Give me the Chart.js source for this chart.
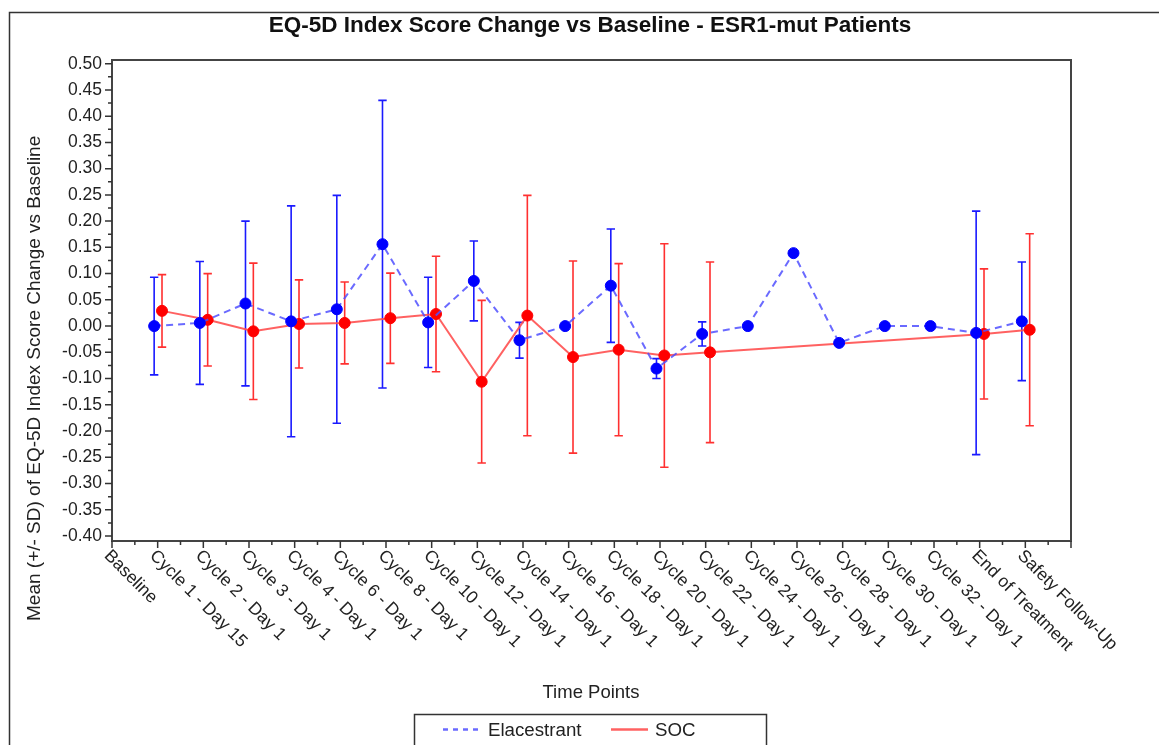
<!DOCTYPE html>
<html>
<head>
<meta charset="utf-8">
<script src="https://cdn.jsdelivr.net/npm/chart.js@4/dist/chart.umd.min.js"></script>
<style>
  html, body { margin: 0; padding: 0; background: #fff; }
  canvas { display: block; }
</style>
</head>
<body>
<canvas id="grafico" width="1159" height="745"></canvas>
<script>
// time points (Baseline has no change value)
const timePoints = [
    'Baseline', 'Cycle 1 - Day 15', 'Cycle 2 - Day 1', 'Cycle 3 - Day 1', 'Cycle 4 - Day 1',
    'Cycle 6 - Day 1', 'Cycle 8 - Day 1', 'Cycle 10 - Day 1', 'Cycle 12 - Day 1', 'Cycle 14 - Day 1',
    'Cycle 16 - Day 1', 'Cycle 18 - Day 1', 'Cycle 20 - Day 1', 'Cycle 22 - Day 1', 'Cycle 24 - Day 1',
    'Cycle 26 - Day 1', 'Cycle 28 - Day 1', 'Cycle 30 - Day 1', 'Cycle 32 - Day 1',
    'End of Treatment', 'Safety Follow-Up'
];

// Elacestrant: mean change and SD
const elaMean = [null, 0.000, 0.006, 0.043, 0.009, 0.032, 0.156, 0.007, 0.086, -0.027, 0.000,
    0.077, -0.081, -0.015, 0.000, 0.139, -0.032, 0.000, 0.000, -0.013, 0.009];
const elaSd = [null, 0.093, 0.117, 0.157, 0.220, 0.217, 0.274, 0.086, 0.076, 0.034, null,
    0.108, 0.019, 0.023, null, null, null, null, null, 0.232, 0.113];

// SOC: mean change and SD
const socMean = [null, 0.029, 0.012, -0.010, 0.004, 0.006, 0.015, 0.023, -0.106, 0.020, -0.059,
    -0.045, -0.056, -0.050, null, null, null, null, null, -0.015, -0.007];
const socSd = [null, 0.069, 0.088, 0.130, 0.084, 0.078, 0.086, 0.110, 0.155, 0.229, 0.183,
    0.164, 0.213, 0.172, null, null, null, null, null, 0.124, 0.183];

const yTicks = [-0.40, -0.35, -0.30, -0.25, -0.20, -0.15, -0.10, -0.05, 0.00,
    0.05, 0.10, 0.15, 0.20, 0.25, 0.30, 0.35, 0.40, 0.45, 0.50];

const FONT = "'Liberation Sans', Arial, sans-serif";
const TXT = '#222';
const ELA_SHIFT = -0.077; // small horizontal dodge so the groups don't overlap
const SOC_SHIFT = 0.095;

function pontos(media, shift) {
    const out = [];
    media.forEach((v, i) => { if (v !== null) out.push({ x: i + shift, y: v }); });
    return out;
}

const series = [
    { media: elaMean, sd: elaSd, shift: ELA_SHIFT, cor: '#1a1aff' },
    { media: socMean, sd: socSd, shift: SOC_SHIFT, cor: '#ff3030' },
];

const errorBars = {
    id: 'errorBars',
    beforeDatasetsDraw(chart) {
        const { ctx, scales: { x, y } } = chart;
        ctx.save();
        ctx.lineWidth = 1.6;
        series.forEach(s => {
            ctx.strokeStyle = s.cor;
            s.media.forEach((m, i) => {
                if (m === null || s.sd[i] === null) return;
                const px = x.getPixelForValue(i + s.shift);
                const top = y.getPixelForValue(m + s.sd[i]);
                const bot = y.getPixelForValue(m - s.sd[i]);
                ctx.beginPath();
                ctx.moveTo(px, top); ctx.lineTo(px, bot);
                ctx.moveTo(px - 4.2, top); ctx.lineTo(px + 4.2, top);
                ctx.moveTo(px - 4.2, bot); ctx.lineTo(px + 4.2, bot);
                ctx.stroke();
            });
        });
        ctx.restore();
    }
};

const moldura = {
    id: 'moldura',
    afterDraw(chart) {
        const { ctx, chartArea: a, scales: { x, y } } = chart;
        ctx.save();

        // outer border (only top/left visible in the picture)
        ctx.strokeStyle = '#333';
        ctx.lineWidth = 1.5;
        ctx.strokeRect(9.5, 12.5, 1200, 800);

        // plot frame
        ctx.strokeStyle = '#444';
        ctx.lineWidth = 2;
        ctx.strokeRect(a.left, a.top, a.right - a.left, a.bottom - a.top);

        // tick marks
        ctx.strokeStyle = '#333';
        ctx.lineWidth = 1.5;
        ctx.beginPath();
        yTicks.forEach((v, k) => {
            const py = y.getPixelForValue(v);
            ctx.moveTo(a.left, py); ctx.lineTo(a.left - 7, py);
            if (k < yTicks.length - 1) {
                const pm = y.getPixelForValue(v + 0.025);
                ctx.moveTo(a.left, pm); ctx.lineTo(a.left - 4, pm);
            }
        });
        for (let i = 0; i <= timePoints.length; i++) {
            const px = x.getPixelForValue(i);
            ctx.moveTo(px, a.bottom); ctx.lineTo(px, a.bottom + 7);
            if (i < timePoints.length) {
                const pm = x.getPixelForValue(i + 0.5);
                ctx.moveTo(pm, a.bottom); ctx.lineTo(pm, a.bottom + 4);
            }
        }
        ctx.stroke();

        // slanted x labels
        ctx.fillStyle = TXT;
        ctx.font = '17.5px ' + FONT;
        ctx.textAlign = 'left';
        ctx.textBaseline = 'top';
        timePoints.forEach((lbl, i) => {
            const px = x.getPixelForValue(i);
            ctx.save();
            ctx.translate(px + 1, a.bottom + 6);
            ctx.rotate(Math.PI / 4);
            ctx.fillText(lbl, 0, 0);
            ctx.restore();
        });

        // title
        ctx.textAlign = 'center';
        ctx.textBaseline = 'alphabetic';
        ctx.font = 'bold 22.5px ' + FONT;
        ctx.fillStyle = '#111';
        ctx.fillText('EQ-5D Index Score Change vs Baseline - ESR1-mut Patients', 590, 32);

        // axis titles
        ctx.fillStyle = TXT;
        ctx.font = '18.5px ' + FONT;
        ctx.fillText('Time Points', 591, 698);
        ctx.save();
        ctx.translate(39.5, 621);
        ctx.rotate(-Math.PI / 2);
        ctx.textAlign = 'left';
        ctx.font = '19px ' + FONT;
        ctx.fillText('Mean (+/- SD) of EQ-5D Index Score Change vs Baseline', 0, 0);
        ctx.restore();

        // legend
        const ds = chart.data.datasets;
        ctx.strokeStyle = '#333';
        ctx.lineWidth = 1.5;
        ctx.strokeRect(414.5, 714.5, 352, 100);
        ctx.lineWidth = 2.5;
        ctx.strokeStyle = ds[0].borderColor;
        ctx.setLineDash([5, 5]);
        ctx.beginPath(); ctx.moveTo(443, 729.5); ctx.lineTo(482, 729.5); ctx.stroke();
        ctx.setLineDash([]);
        ctx.strokeStyle = ds[1].borderColor;
        ctx.beginPath(); ctx.moveTo(611, 729.5); ctx.lineTo(648, 729.5); ctx.stroke();
        ctx.textAlign = 'left';
        ctx.fillStyle = TXT;
        ctx.font = '18.7px ' + FONT;
        ctx.fillText(ds[0].label, 488, 736);
        ctx.fillText(ds[1].label, 655, 736);

        ctx.restore();
    }
};

const ctx = document.getElementById('grafico');
const grafico = new Chart(ctx, {
    type: 'line',
    data: {
        datasets: [{
            label: 'Elacestrant',
            data: pontos(elaMean, ELA_SHIFT),
            borderColor: 'rgba(80, 80, 255, 0.85)',
            borderWidth: 2,
            borderDash: [7, 5],
            pointBackgroundColor: '#0000ff',
            pointBorderColor: '#0000ff',
            pointRadius: 5.5,
            pointBorderWidth: 1,
            tension: 0
        }, {
            label: 'SOC',
            data: pontos(socMean, SOC_SHIFT),
            borderColor: 'rgba(255, 80, 80, 0.9)',
            borderWidth: 2,
            pointBackgroundColor: '#ff0000',
            pointBorderColor: '#ff0000',
            pointRadius: 5.5,
            pointBorderWidth: 1,
            tension: 0
        }]
    },
    options: {
        responsive: false,
        animation: false,
        devicePixelRatio: 1,
        layout: { padding: { top: 60, left: 0, right: 88, bottom: 0 } },
        scales: {
            x: {
                type: 'linear',
                min: 0,
                max: timePoints.length,
                ticks: { display: false },
                grid: { display: false, drawTicks: false },
                border: { display: false },
                afterFit: s => { s.height = 204; }
            },
            y: {
                min: -0.4095,
                max: 0.507,
                afterBuildTicks: s => { s.ticks = yTicks.map(v => ({ value: v })); },
                ticks: {
                    padding: 10,
                    color: TXT,
                    font: { family: FONT, size: 17.5 },
                    callback: v => v.toFixed(2)
                },
                grid: { display: false, drawTicks: false },
                border: { display: false },
                afterFit: s => { s.width = 112; }
            }
        },
        plugins: {
            legend: { display: false },
            tooltip: { enabled: false }
        }
    },
    plugins: [errorBars, moldura]
});
</script>
</body>
</html>
